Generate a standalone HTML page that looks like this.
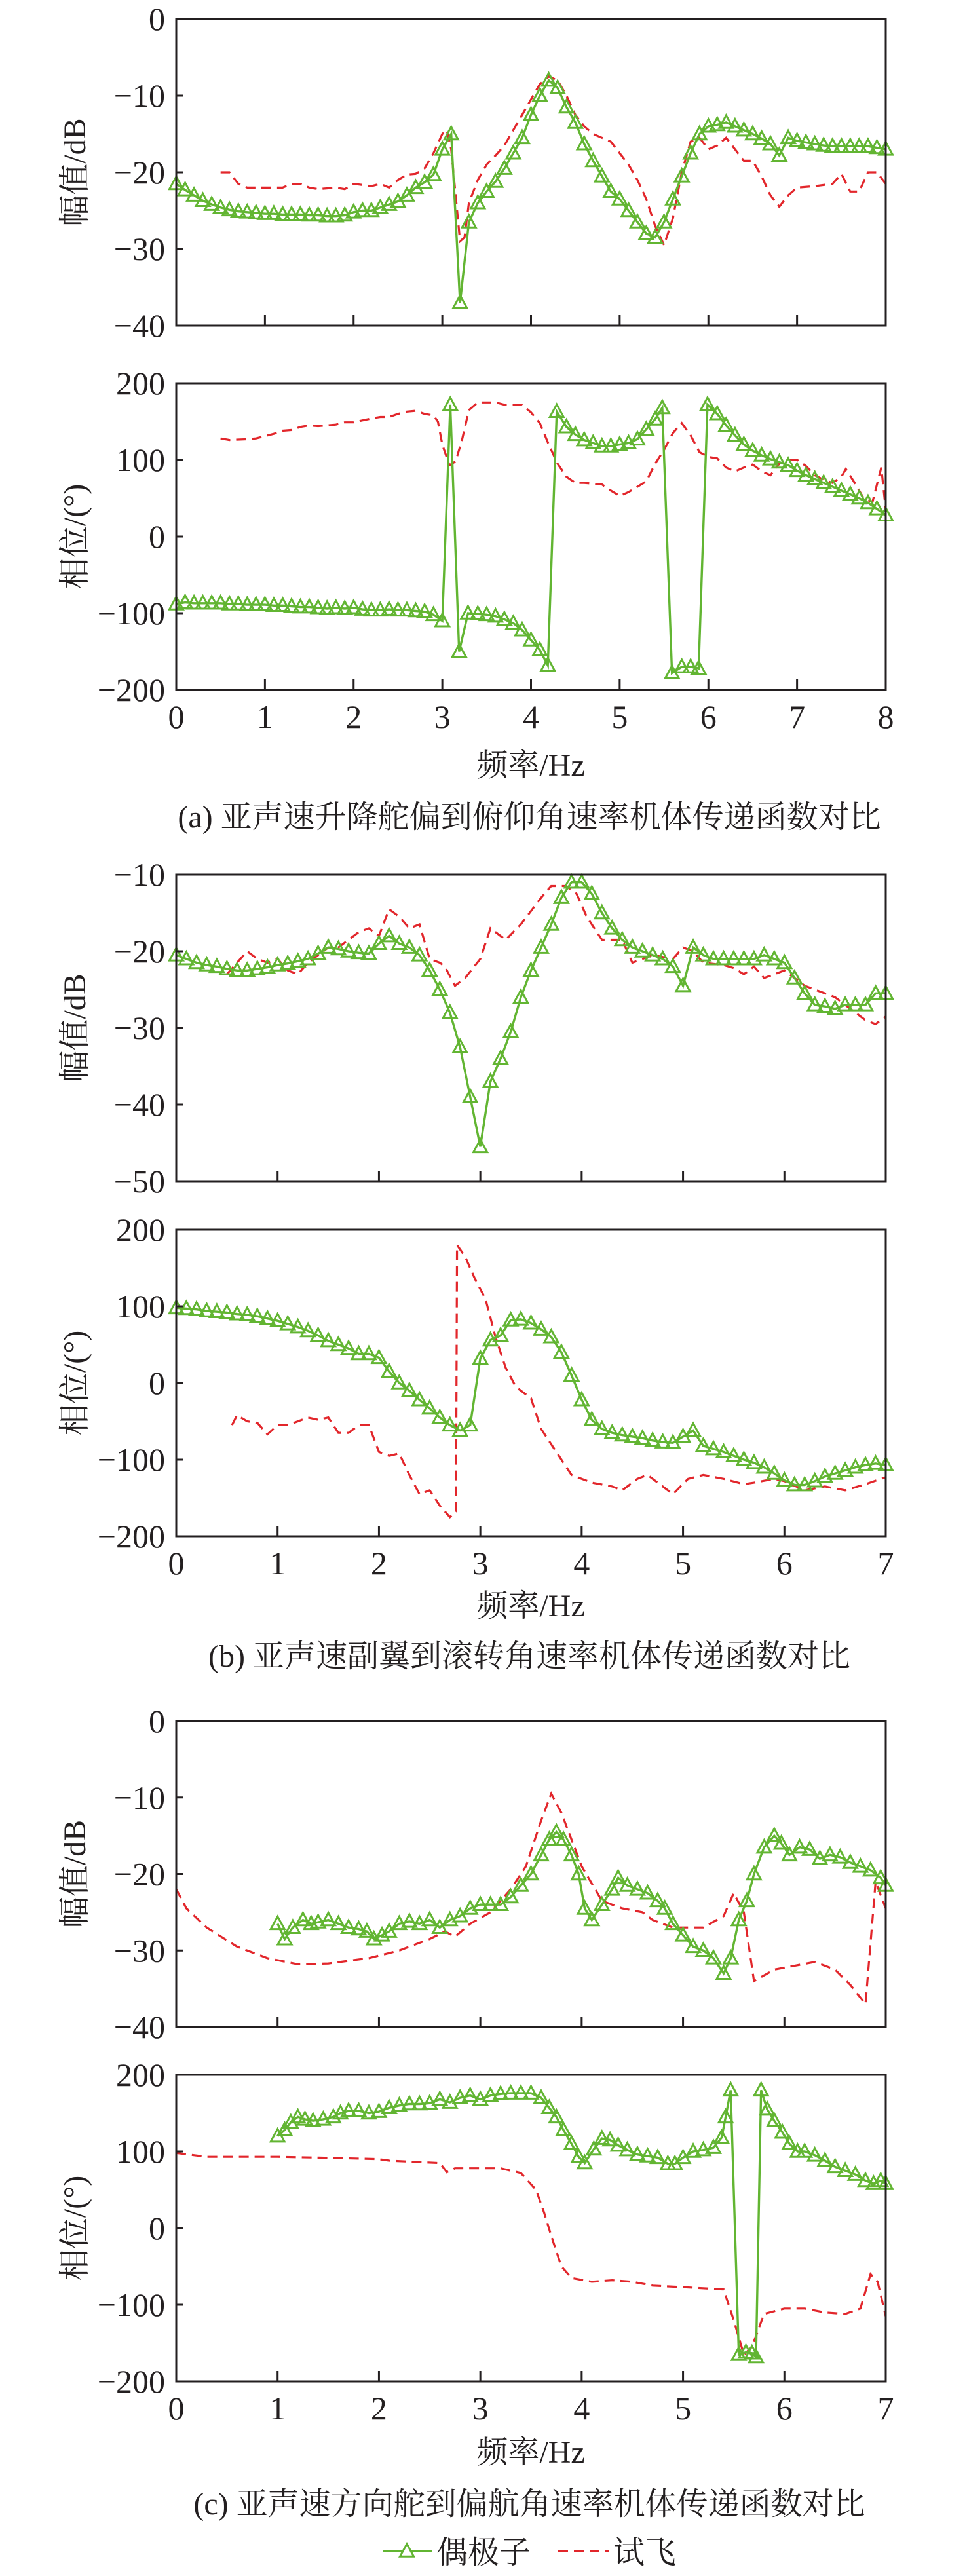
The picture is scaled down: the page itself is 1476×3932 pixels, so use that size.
<!DOCTYPE html>
<html><head><meta charset="utf-8">
<style>
html,body{margin:0;padding:0;background:#fff;}
svg{display:block;}
text{font-family:"Liberation Serif","Noto Serif CJK SC","Noto Sans CJK SC",serif;fill:#231f20;}
</style></head>
<body>
<svg id="s" xmlns="http://www.w3.org/2000/svg" width="1476" height="3932" viewBox="0 0 1476 3932">
<rect width="1476" height="3932" fill="#fff"/>
</svg>
<script>
const S=document.getElementById('s');const NS='http://www.w3.org/2000/svg';
function el(t,a,txt){const e=document.createElementNS(NS,t);for(const k in a)e.setAttribute(k,a[k]);if(txt!==undefined)e.textContent=txt;S.appendChild(e);return e;}
const X0=269,X1=1352,G='#62b532',R='#e2262b';
function tri(x,y){const h=11;return `M${x},${y-h} L${x-10.5},${y+h*0.75} L${x+10.5},${y+h*0.75} Z`;}
function panel(o){
 const {top,bot,ymax,ymin,xmax,ticks,green,red,xt,ylab}=o;
 const fx=v=>X0+(X1-X0)*v/xmax, fy=v=>top+(bot-top)*(ymax-v)/(ymax-ymin);
 if(red){el('polyline',{points:red.map(p=>fx(p[0]).toFixed(1)+','+fy(p[1]).toFixed(1)).join(' '),fill:'none',stroke:R,'stroke-width':3.2,'stroke-dasharray':'15,9'});}
 if(green){el('polyline',{points:green.map(p=>fx(p[0]).toFixed(1)+','+fy(p[1]).toFixed(1)).join(' '),fill:'none',stroke:G,'stroke-width':3.4});
  let d='';green.forEach(p=>{d+=tri(fx(p[0]),fy(p[1]));});
  el('path',{d:d,fill:'none',stroke:G,'stroke-width':3});}
 el('rect',{x:X0,y:top,width:X1-X0,height:bot-top,fill:'none',stroke:'#231f20','stroke-width':3});
 ticks.forEach(v=>{const y=fy(v);el('line',{x1:X0,y1:y,x2:X0+10,y2:y,stroke:'#231f20','stroke-width':3});
  el('text',{x:252,y:y+17,'text-anchor':'end','font-size':50},(v<0?'\u2212'+(-v):''+v));});
 for(let i=1;i<xmax;i++){const x=fx(i);el('line',{x1:x,y1:bot,x2:x,y2:bot-16,stroke:'#231f20','stroke-width':3});}
 if(xt){for(let i=0;i<=xmax;i++){el('text',{x:fx(i),y:bot+58,'text-anchor':'middle','font-size':50},''+i);}}
 const cy=(top+bot)/2;
 el('text',{x:0,y:0,'text-anchor':'middle','font-size':48,transform:`translate(130,${cy}) rotate(-90)`},ylab);
}
panel({top:29,bot:497,ymax:0,ymin:-40,xmax:8,ticks:[0,-10,-20,-30,-40],ylab:'幅值/dB',
green:[[0,-21.5],[0.1,-22.3],[0.2,-23],[0.3,-23.7],[0.4,-24.2],[0.5,-24.6],[0.6,-24.9],[0.7,-25.1],[0.8,-25.2],[0.9,-25.3],[1,-25.4],[1.1,-25.4],[1.2,-25.5],[1.3,-25.5],[1.4,-25.5],[1.5,-25.6],[1.6,-25.6],[1.7,-25.7],[1.8,-25.7],[1.9,-25.6],[2.0,-25.2],[2.1,-25],[2.2,-25],[2.3,-24.6],[2.4,-24.2],[2.5,-23.8],[2.6,-23],[2.7,-22],[2.8,-21.3],[2.9,-20.3],[3.0,-17],[3.1,-15],[3.2,-37],[3.3,-26.5],[3.4,-24],[3.5,-22.5],[3.6,-21.2],[3.7,-19.5],[3.8,-17.5],[3.9,-15.5],[4.0,-12.5],[4.1,-10],[4.2,-8],[4.3,-9],[4.4,-11.5],[4.5,-13.5],[4.6,-16.3],[4.7,-18.5],[4.8,-20.5],[4.9,-22.5],[5.0,-23.5],[5.1,-25],[5.2,-26.5],[5.3,-28],[5.4,-28.5],[5.5,-26.5],[5.6,-23.5],[5.7,-20.5],[5.8,-17.5],[5.9,-15],[6.0,-14],[6.1,-13.8],[6.2,-13.5],[6.3,-14],[6.4,-14.5],[6.5,-15],[6.6,-15.6],[6.7,-16.3],[6.8,-17.8],[6.9,-15.5],[7.0,-15.9],[7.1,-16.1],[7.2,-16.3],[7.3,-16.5],[7.4,-16.6],[7.5,-16.6],[7.6,-16.6],[7.7,-16.6],[7.8,-16.6],[7.9,-16.8],[8,-17]],
red:[[0.5,-20],[0.6,-20],[0.7,-21.5],[0.8,-22],[1.0,-22],[1.2,-22],[1.3,-21.5],[1.4,-21.5],[1.5,-22],[1.6,-22.2],[1.8,-22],[1.9,-22.2],[2.0,-21.5],[2.2,-21.8],[2.3,-21.5],[2.4,-22],[2.5,-21],[2.6,-20.3],[2.7,-20.2],[2.8,-19.5],[2.9,-17.5],[3.0,-15],[3.05,-14.5],[3.1,-17],[3.2,-29],[3.25,-28.5],[3.3,-24],[3.4,-21],[3.5,-19],[3.6,-17.8],[3.7,-16.5],[3.8,-14.5],[3.9,-12.5],[4.0,-10.5],[4.1,-8.5],[4.2,-7.5],[4.3,-8],[4.4,-10],[4.5,-12.5],[4.6,-14],[4.7,-15],[4.8,-15.5],[4.9,-16],[5.0,-17.5],[5.1,-19],[5.2,-21],[5.3,-23.5],[5.4,-27],[5.5,-29.5],[5.6,-26],[5.7,-20],[5.8,-16],[5.9,-15.5],[6.0,-17],[6.1,-16.5],[6.2,-15.5],[6.3,-17],[6.4,-18.5],[6.5,-18.5],[6.6,-20.5],[6.7,-23],[6.8,-24.5],[6.9,-23],[7.0,-22],[7.2,-21.8],[7.4,-21.5],[7.5,-20.2],[7.6,-22.5],[7.7,-22.5],[7.8,-20],[7.9,-20],[8,-21.5]]});
panel({top:585,bot:1053,ymax:200,ymin:-200,xmax:8,ticks:[200,100,0,-100,-200],xt:1,ylab:'相位/(°)',
green:[[0,-88],[0.1,-86],[0.2,-87],[0.3,-87],[0.4,-87],[0.5,-87],[0.6,-88],[0.7,-88],[0.8,-89],[0.9,-89],[1,-89],[1.1,-90],[1.2,-90],[1.3,-91],[1.4,-92],[1.5,-92],[1.6,-93],[1.7,-94],[1.8,-93],[1.9,-94],[2.0,-93],[2.1,-95],[2.2,-96],[2.3,-96],[2.4,-95],[2.5,-96],[2.6,-96],[2.7,-97],[2.8,-98],[2.9,-102],[3.0,-110],[3.09,172],[3.19,-150],[3.29,-100],[3.4,-101],[3.5,-102],[3.6,-104],[3.7,-108],[3.8,-113],[3.9,-122],[4.0,-135],[4.1,-148],[4.19,-168],[4.29,163],[4.4,143],[4.5,133],[4.6,126],[4.7,122],[4.8,118],[4.9,118],[5.0,120],[5.1,122],[5.2,127],[5.3,140],[5.4,153],[5.48,168],[5.59,-178],[5.7,-170],[5.8,-170],[5.89,-172],[5.99,172],[6.1,160],[6.2,145],[6.3,132],[6.4,120],[6.5,112],[6.6,106],[6.7,101],[6.8,97],[6.9,93],[7.0,86],[7.1,80],[7.2,75],[7.3,70],[7.4,65],[7.5,60],[7.6,55],[7.7,50],[7.8,44],[7.9,36],[8,28]],
red:[[0.5,128],[0.6,126],[0.8,127],[0.9,128],[1.0,131],[1.1,134],[1.2,138],[1.3,139],[1.4,143],[1.5,145],[1.6,144],[1.8,146],[1.9,149],[2.0,149],[2.2,154],[2.3,156],[2.4,156],[2.5,160],[2.6,163],[2.7,164],[2.8,160],[2.9,158],[2.95,150],[3.0,120],[3.08,93],[3.15,98],[3.22,125],[3.3,165],[3.4,175],[3.6,175],[3.7,172],[3.9,172],[4.0,162],[4.1,148],[4.2,120],[4.3,95],[4.4,78],[4.5,70],[4.6,70],[4.7,69],[4.8,68],[4.9,60],[5.0,53],[5.1,58],[5.2,65],[5.3,72],[5.4,95],[5.5,113],[5.6,135],[5.7,148],[5.8,132],[5.9,110],[6.0,104],[6.1,102],[6.2,90],[6.3,85],[6.4,90],[6.5,94],[6.6,85],[6.7,80],[6.8,95],[6.9,100],[7.0,100],[7.1,92],[7.2,80],[7.3,74],[7.4,70],[7.5,78],[7.55,88],[7.65,70],[7.75,50],[7.85,45],[7.95,90],[8,35]]});
panel({top:1335,bot:1803,ymax:-10,ymin:-50,xmax:7,ticks:[-10,-20,-30,-40,-50],ylab:'幅值/dB',
green:[[0,-20.5],[0.1,-21],[0.2,-21.5],[0.3,-21.8],[0.4,-22],[0.5,-22.3],[0.6,-22.5],[0.7,-22.5],[0.8,-22.3],[0.9,-22.1],[1.0,-21.8],[1.1,-21.6],[1.2,-21.3],[1.3,-21],[1.4,-20.3],[1.5,-19.5],[1.6,-19.7],[1.7,-20],[1.8,-20.2],[1.9,-20.3],[2.0,-19],[2.1,-18],[2.2,-19],[2.3,-19.5],[2.4,-20.5],[2.5,-22.5],[2.6,-25],[2.7,-28],[2.8,-32.5],[2.9,-39],[3.0,-45.5],[3.1,-37],[3.2,-34],[3.3,-30.5],[3.4,-26],[3.5,-22.5],[3.6,-19.5],[3.7,-16.5],[3.8,-13],[3.9,-11],[4.0,-11],[4.1,-12.5],[4.2,-15],[4.3,-17],[4.4,-18.5],[4.5,-19.5],[4.6,-20],[4.7,-20.5],[4.8,-21],[4.9,-22],[5.0,-24.5],[5.1,-19.5],[5.2,-20.5],[5.3,-21],[5.4,-21],[5.5,-21],[5.6,-21],[5.7,-21],[5.8,-20.5],[5.9,-21],[6.0,-21.5],[6.1,-23.5],[6.2,-25.5],[6.3,-27],[6.4,-27.2],[6.5,-27.5],[6.6,-27],[6.7,-27],[6.8,-27],[6.9,-25.5],[7.0,-25.5]],
red:[[0.5,-23],[0.6,-21.5],[0.7,-20],[0.8,-21],[0.9,-21.5],[1.0,-21],[1.1,-22.5],[1.2,-23],[1.3,-21.5],[1.4,-20.5],[1.5,-19.5],[1.6,-19.5],[1.7,-18.5],[1.8,-17.5],[1.9,-17],[2.0,-18],[2.1,-14.5],[2.2,-15.5],[2.3,-17],[2.4,-16.5],[2.5,-21],[2.6,-21.5],[2.65,-22],[2.75,-24.5],[2.85,-23.5],[3.0,-21],[3.1,-17],[3.25,-18.5],[3.4,-16.5],[3.6,-13],[3.7,-11.5],[3.85,-11.5],[3.95,-12.5],[4.05,-15.5],[4.2,-18.5],[4.4,-18.5],[4.5,-21.5],[4.6,-21],[4.7,-20.5],[4.9,-21],[5.0,-19.5],[5.1,-20],[5.2,-21.5],[5.4,-21.8],[5.5,-22.2],[5.6,-23],[5.7,-22],[5.8,-23.5],[6.0,-22.5],[6.1,-23.5],[6.2,-24.5],[6.4,-25.5],[6.5,-26],[6.6,-27],[6.7,-28],[6.8,-29],[6.9,-29.5],[7.0,-28.5]]});
panel({top:1877,bot:2345,ymax:200,ymin:-200,xmax:7,ticks:[200,100,0,-100,-200],xt:1,ylab:'相位/(°)',
green:[[0,98],[0.1,97],[0.2,96],[0.3,94],[0.4,93],[0.5,92],[0.6,90],[0.7,89],[0.8,87],[0.9,84],[1.0,81],[1.1,77],[1.2,73],[1.3,68],[1.4,62],[1.5,55],[1.6,50],[1.7,45],[1.8,38],[1.9,38],[2.0,33],[2.1,15],[2.2,0],[2.3,-10],[2.4,-22],[2.5,-33],[2.6,-45],[2.7,-55],[2.8,-62],[2.9,-55],[3.0,32],[3.1,56],[3.2,62],[3.3,82],[3.4,83],[3.5,78],[3.6,70],[3.7,60],[3.8,40],[3.9,10],[4.0,-22],[4.1,-48],[4.2,-60],[4.3,-65],[4.4,-68],[4.5,-70],[4.6,-72],[4.7,-75],[4.8,-77],[4.9,-78],[5.0,-70],[5.1,-62],[5.2,-82],[5.3,-86],[5.4,-90],[5.5,-95],[5.6,-100],[5.7,-104],[5.8,-110],[5.9,-118],[6.0,-127],[6.1,-133],[6.2,-133],[6.3,-128],[6.4,-122],[6.5,-118],[6.6,-114],[6.7,-110],[6.8,-107],[6.9,-105],[7.0,-107]],
red:[[0.55,-55],[0.6,-42],[0.7,-50],[0.8,-52],[0.9,-67],[1.0,-55],[1.1,-55],[1.2,-50],[1.3,-45],[1.4,-48],[1.5,-45],[1.6,-65],[1.7,-65],[1.8,-55],[1.9,-55],[2.0,-90],[2.1,-95],[2.2,-92],[2.3,-120],[2.4,-145],[2.5,-140],[2.6,-160],[2.7,-175],[2.76,-168],[2.77,180],[2.85,165],[2.95,135],[3.05,110],[3.15,60],[3.25,20],[3.35,-5],[3.5,-20],[3.6,-60],[3.75,-90],[3.9,-120],[4.0,-125],[4.1,-130],[4.3,-135],[4.4,-140],[4.55,-125],[4.65,-120],[4.8,-135],[4.9,-145],[5.05,-125],[5.2,-120],[5.4,-125],[5.6,-132],[5.7,-130],[5.9,-125],[6.0,-128],[6.2,-140],[6.4,-135],[6.6,-140],[6.8,-132],[7.0,-123]]});
panel({top:2627,bot:3094,ymax:0,ymin:-40,xmax:7,ticks:[0,-10,-20,-30,-40],ylab:'幅值/dB',
green:[[1.0,-26.5],[1.07,-28.5],[1.15,-27],[1.25,-26],[1.33,-26.5],[1.4,-26.3],[1.5,-26],[1.6,-26.5],[1.7,-27],[1.8,-27.2],[1.88,-27.5],[1.95,-28.5],[2.03,-28],[2.1,-27.5],[2.2,-26.5],[2.3,-26.2],[2.4,-26.5],[2.5,-26],[2.6,-27],[2.7,-26],[2.8,-25.5],[2.9,-24.5],[3.0,-24],[3.1,-24],[3.2,-24],[3.3,-23],[3.4,-21.5],[3.5,-20],[3.6,-17.5],[3.68,-15.5],[3.75,-14.5],[3.82,-15.5],[3.9,-17.5],[3.97,-20],[4.03,-24.5],[4.1,-26],[4.2,-24],[4.3,-22],[4.36,-20.5],[4.45,-21.5],[4.55,-22],[4.65,-22.5],[4.75,-23.5],[4.82,-24.5],[4.9,-26.5],[5.0,-28],[5.1,-29.5],[5.2,-30],[5.3,-31],[5.4,-33],[5.47,-31],[5.55,-26],[5.63,-23.5],[5.7,-20],[5.8,-16.5],[5.9,-15],[5.97,-16],[6.05,-17.5],[6.15,-16.5],[6.25,-16.8],[6.35,-18],[6.45,-17.5],[6.55,-17.8],[6.65,-18.5],[6.75,-19],[6.85,-19.5],[6.95,-20.5],[7.0,-21.5]],
red:[[0,-22],[0.1,-24.5],[0.3,-27],[0.6,-29.5],[0.9,-31],[1.2,-31.8],[1.5,-31.7],[1.9,-31],[2.2,-30],[2.5,-28.5],[2.65,-27.5],[2.75,-28.2],[2.9,-26.5],[3.1,-25],[3.3,-22],[3.45,-19],[3.6,-13],[3.7,-9.5],[3.8,-12],[3.9,-15.5],[4.0,-19],[4.2,-23.5],[4.4,-24.5],[4.6,-25],[4.7,-26],[4.9,-27],[5.2,-27],[5.4,-25.5],[5.5,-22.5],[5.6,-25],[5.7,-34],[5.9,-32.5],[6.1,-32],[6.3,-31.5],[6.5,-32.5],[6.65,-34.5],[6.8,-37],[6.9,-21],[7.0,-24.5]]});
panel({top:3167,bot:3635,ymax:200,ymin:-200,xmax:7,ticks:[200,100,0,-100,-200],xt:1,ylab:'相位/(°)',
green:[[1.0,120],[1.07,128],[1.13,138],[1.2,145],[1.27,142],[1.35,140],[1.45,142],[1.55,145],[1.62,150],[1.7,153],[1.8,153],[1.9,150],[2.0,152],[2.1,157],[2.2,160],[2.3,162],[2.4,162],[2.5,163],[2.6,168],[2.7,164],[2.8,170],[2.9,173],[3.0,168],[3.1,173],[3.2,175],[3.3,176],[3.4,176],[3.5,176],[3.6,170],[3.68,157],[3.75,145],[3.82,128],[3.9,110],[3.97,93],[4.03,85],[4.12,103],[4.2,117],[4.28,115],[4.36,108],[4.45,102],[4.55,96],[4.65,94],[4.75,92],[4.85,84],[4.92,84],[5.0,92],[5.1,100],[5.2,102],[5.3,105],[5.38,118],[5.42,145],[5.47,180],[5.55,-165],[5.62,-162],[5.68,-163],[5.72,-168],[5.77,180],[5.83,155],[5.9,140],[5.98,125],[6.05,110],[6.13,100],[6.2,100],[6.3,95],[6.4,88],[6.5,80],[6.6,75],[6.7,70],[6.8,62],[6.88,58],[6.95,62],[7.0,58]],
red:[[0,98],[0.3,93],[1.0,93],[1.4,92],[2.0,90],[2.1,88],[2.6,85],[2.67,73],[2.75,78],[3.2,78],[3.4,72],[3.55,50],[3.63,20],[3.7,-10],[3.8,-50],[3.9,-65],[4.1,-70],[4.3,-68],[4.5,-70],[4.7,-75],[5.0,-77],[5.4,-80],[5.5,-120],[5.6,-165],[5.68,-155],[5.8,-112],[6.0,-105],[6.2,-105],[6.4,-110],[6.6,-112],[6.75,-105],[6.85,-60],[6.92,-70],[7.0,-115]]});
[1167,2450,3742].forEach(y=>el('text',{x:810,y:y+17,'text-anchor':'middle','font-size':48},'频率/Hz'));
el('text',{x:808,y:1263,'text-anchor':'middle','font-size':48},'(a) 亚声速升降舵偏到俯仰角速率机体传递函数对比');
el('text',{x:808,y:2544,'text-anchor':'middle','font-size':48},'(b) 亚声速副翼到滚转角速率机体传递函数对比');
el('text',{x:808,y:3838,'text-anchor':'middle','font-size':48},'(c) 亚声速方向舵到偏航角速率机体传递函数对比');
el('line',{x1:584,y1:3894,x2:659,y2:3894,stroke:G,'stroke-width':3.4});
el('path',{d:tri(621,3894),fill:'#fff',stroke:G,'stroke-width':3});
el('text',{x:666,y:3912,'font-size':48},'偶极子');
el('line',{x1:852,y1:3894,x2:930,y2:3894,stroke:R,'stroke-width':3.2,'stroke-dasharray':'15,9'});
el('text',{x:936,y:3912,'font-size':48},'试飞');
</script>
</body></html>
